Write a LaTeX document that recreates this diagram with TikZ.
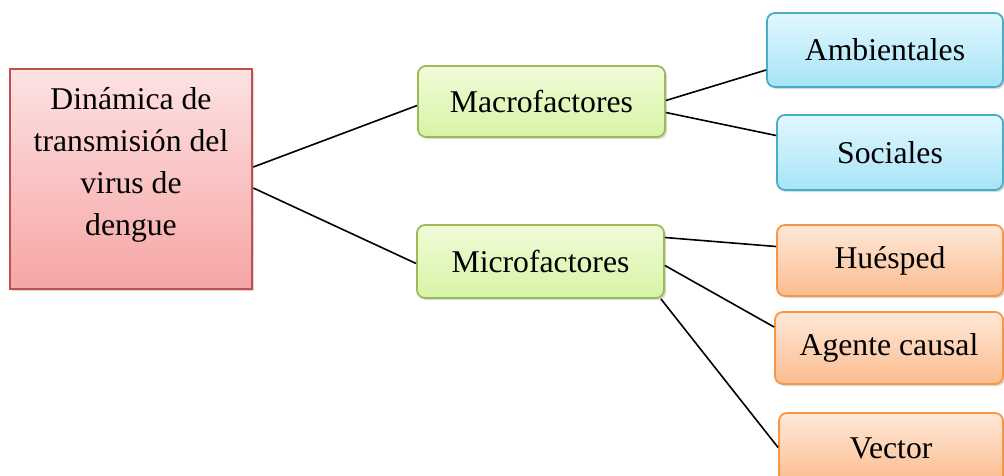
\documentclass[tikz,border=0pt]{standalone}
\usepackage{fontspec}
\setmainfont{Liberation Serif}
\usetikzlibrary{calc,shadows}
\definecolor{redB}{HTML}{C0504D}
\definecolor{redT}{HTML}{FDE2E2}
\definecolor{redM}{HTML}{F6A5A5}
\definecolor{grnB}{HTML}{9BBB59}
\definecolor{grnT}{HTML}{F2FBD8}
\definecolor{grnM}{HTML}{D6F4A4}
\definecolor{bluB}{HTML}{4BACC6}
\definecolor{bluT}{HTML}{E2F7FE}
\definecolor{bluM}{HTML}{A6E4F8}
\definecolor{orgB}{HTML}{F79646}
\definecolor{orgT}{HTML}{FEE8D8}
\definecolor{orgM}{HTML}{FBBC8E}
\begin{document}
\begin{tikzpicture}[x=1pt,y=-1pt,
  txt/.style={font=\fontsize{31.7}{42}\selectfont, text=black},
  box/.style={rectangle, rounded corners=8pt, line width=1.8pt, inner sep=0pt, txt,
    drop shadow={shadow xshift=2pt, shadow yshift=-2pt, opacity=0.3}},
  rootbox/.style={box, rounded corners=0pt, draw=redB, top color=redT, bottom color=redM, line width=2.6pt},
  greenbox/.style={box, draw=grnB, top color=grnT, bottom color=grnM},
  bluebox/.style={box, draw=bluB, top color=bluT, bottom color=bluM},
  orangebox/.style={box, draw=orgB, top color=orgT, bottom color=orgM},
  link/.style={draw=black, line width=1.6pt}]
\useasboundingbox (0,0) rectangle (1004,475);
\clip (0,0) rectangle (1004,475);
\node[rootbox, minimum width=242, minimum height=220] (root) at (131,179) {};
\node[txt, align=center] (rootlabel) at (131,165) {Dinámica de\\transmisión del\\virus de\\dengue};
\node[greenbox, minimum width=247, minimum height=71] (macro) at (541.5,101.5) {Macrofactores};
\node[greenbox, minimum width=247, minimum height=73] (micro) at (540.5,261.5) {Microfactores};
\node[bluebox, minimum width=236, minimum height=74] (amb) at (885,50) {Ambientales};
\node[bluebox, minimum width=226, minimum height=75] (soc) at (890,152.5) {Sociales};
\node[orangebox, minimum width=226, minimum height=71] (hue) at (890,260.5) {Huésped};
\node[orangebox, minimum width=228, minimum height=72] (age) at (889,348) {Agente causal};
\node[orangebox, minimum width=224, minimum height=71] (vec) at (891,448.5) {Vector};
\draw[link] ($(root.east)+(0,-12)$) -- ($(macro.west)+(0,4)$);
\draw[link] ($(root.east)+(0,9)$) -- ($(micro.west)+(0,2)$);
\draw[link] ($(macro.east)+(0,-1)$) -- ($(amb.west)+(0,20)$);
\draw[link] ($(macro.east)+(0,11)$) -- ($(soc.west)+(0,-17)$);
\draw[link] ($(micro.east)+(0,-24)$) -- ($(hue.west)+(0,-14)$);
\draw[link] ($(micro.east)+(0,4)$) -- ($(age.west)+(0,-21)$);
\draw[link] ($(micro.south east)+(-4,0)$) -- ($(vec.west)+(0,-1)$);
\end{tikzpicture}
\end{document}
